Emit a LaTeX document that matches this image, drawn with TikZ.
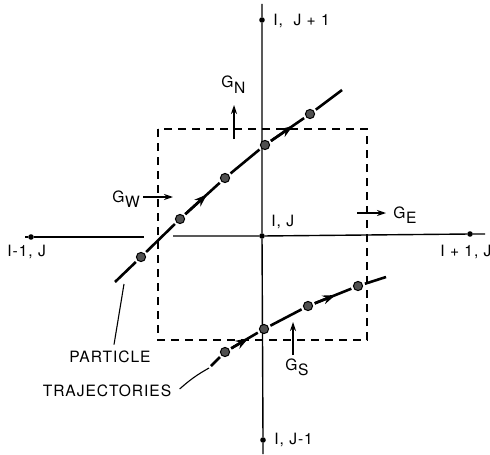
\documentclass[tikz,border=0pt]{standalone}
\usepackage{fontspec}
\setmainfont{TeX Gyre Heros}[LetterSpace=6]
\usepackage{tikz}
\usetikzlibrary{positioning,arrows.meta,calc}
\definecolor{dotGray}{HTML}{505050}
\newcommand{\gsub}[1]{G\kern0.3pt\raisebox{-0.65ex}{#1}}

\begin{document}
\begin{tikzpicture}[x=0.5pt, y=-0.5pt, font=\fontsize{7.8}{9}\selectfont,
  mesh/.style={circle, fill=black, inner sep=0pt, minimum size=2.8pt},
  ptcl/.style={circle, draw=black, fill=dotGray, line width=0.5pt, inner sep=0pt, minimum size=4.6pt, outer sep=1.3pt},
  axis/.style={line width=0.7pt},
  traj/.style={line width=1.3pt},
  trajtip/.style={line width=1.3pt, -{Stealth[length=6.5pt, width=4.5pt]}},
  cell/.style={line width=0.65pt, dash pattern=on 4pt off 3pt},
  flux/.style={line width=0.65pt, -{Stealth[length=4.5pt, width=3pt]}},
  lead/.style={line width=0.55pt},
  lbl/.style={inner sep=0pt}]
\useasboundingbox (0,0) rectangle (490,454);

% mesh points and grid lines
\node[mesh] (C) at (262,236) {};
\node[mesh] (N) at (262,20) {};
\node[mesh] (S) at (263,440) {};
\node[mesh] (W) at (31,237) {};
\node[mesh] (E) at (470,234) {};
\coordinate (Ntop) at (262,4);
\coordinate (Sbot) at (263,454);
\coordinate (Wend) at (25,237);
\coordinate (Eend) at (485,234);
\coordinate (gapL) at (144,237);
\coordinate (gapR) at (173,236);
\draw[axis] (Ntop) -- (N) -- (C) -- (S) -- (Sbot);
\draw[axis] (Wend) -- (W) -- (gapL);
\draw[axis] (gapR) -- (C) -- (E) -- (Eend);
\node[lbl, anchor=west] (Nlbl) at (273,21) {I,\ \ J + 1};
\node[lbl, anchor=west] (Clbl) at (271,222) {I, J};
\node[lbl, anchor=west] (Wlbl) at (7,252) {I-1, J};
\node[lbl, anchor=west] (Elbl) at (440,252) {I + 1, J};
\node[lbl, anchor=west] (Slbl) at (274,440) {I, J-1};

% control cell
\draw[cell] (158,129) rectangle (367,340);

% upper trajectory
\coordinate (u0) at (115,282);
\node[ptcl] (u1) at (141,257) {};
\node[ptcl] (u2) at (180,219) {};
\node[ptcl] (u3) at (225,178) {};
\node[ptcl] (u4) at (265,145) {};
\node[ptcl] (u5) at (310,114) {};
\coordinate (u6) at (342,90);
\draw[traj] (u0) -- (u1) -- (u2) -- (u3) -- (u4) -- (u5) -- (u6);
\draw[trajtip] (u2) -- ($(u2)!0.6!(u3)$);
\draw[trajtip] (u4) -- ($(u4)!0.62!(u5)$);

% lower trajectory
\coordinate (l0) at (211,366);
\node[ptcl] (l1) at (225,352) {};
\node[ptcl] (l2) at (264,329) {};
\node[ptcl] (l3) at (308,306) {};
\node[ptcl] (l4) at (358,286) {};
\coordinate (l5) at (386,277);
\draw[traj] (l0) -- (l1) -- (l2) -- (l3) -- (l4) -- (l5);
\draw[trajtip] (l1) -- ($(l1)!0.6!(l2)$);
\draw[trajtip] (l3) -- ($(l3)!0.55!(l4)$);

% fluxes
\coordinate (gn0) at (234,139); \coordinate (gn1) at (234,105);
\coordinate (gw0) at (143,197); \coordinate (gw1) at (173,197);
\coordinate (ge0) at (357,213); \coordinate (ge1) at (386,213);
\coordinate (gs0) at (293,355); \coordinate (gs1) at (293,322);
\draw[flux] (gn0) -- (gn1); \draw[flux] (gw0) -- (gw1);
\draw[flux] (ge0) -- (ge1); \draw[flux] (gs0) -- (gs1);
\node[lbl, anchor=base west] (GN) at (221,88) {\gsub{N}};
\node[lbl, anchor=base west] (GW) at (112,202) {\gsub{W}};
\node[lbl, anchor=base west] (GE) at (393,218) {\gsub{E}};
\node[lbl, anchor=base west] (GS) at (285,370) {\gsub{S}};

% leaders
\node[lbl] (part) at (110,357) {PARTICLE};
\node[lbl] (trajs) at (107,391) {TRAJECTORIES};
\coordinate (pl) at (124,284);
\coordinate (tl) at (209,368);
\draw[lead] ([xshift=2pt, yshift=3pt]part.north) -- (pl);
\draw[lead] ([xshift=4pt, yshift=1pt]trajs.east) to[bend left=6] (tl);
\end{tikzpicture}
\end{document}
